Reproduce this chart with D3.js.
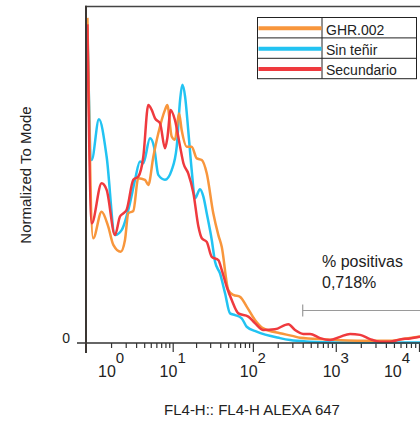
<!DOCTYPE html>
<html>
<head>
<meta charset="utf-8">
<script src="https://cdn.jsdelivr.net/npm/d3@7"></script>
<style>
  body { margin: 0; background: #fff; }
  svg { display: block; }
  text { font-family: "Liberation Sans", Arial, sans-serif; fill: #222; }
</style>
</head>
<body>
<div id="chart"></div>
<script>
// histogram overlay, normalized to mode
// each point is [fluorescence, % of mode]

const seriesNames = ["GHR.002", "Sin teñir", "Secundario"];
const seriesColors = ["#f8963c", "#22c3f2", "#ef3a3e"];

const ghr002 = [[0.04,100],[0.22,32.2],[0.54,40.4],[0.85,35.8],[1.13,30.2],[1.61,28.1],[1.94,31.7],
  [2.22,39.9],[2.7,40.6],[3.25,50.7],[4.11,50.2],[4.6,48.6],[5.44,57.3],[6.39,64.5],[7.89,71.7],
  [8.48,73.2],[9.7,63.5],[10.7,62.5],[12.1,70.7],[13.1,65.5],[15.2,60.4],[17.6,60.4],[20.4,56.8],
  [23.6,56.3],[27.2,52.2],[32.8,39.9],[37.9,33.2],[41.7,29.6],[50.2,16.3],[57.9,14.8],[69.8,14.2],
  [84.2,11.2],[106,7.1],[134,4.5],[213,3.0],[300,2.2],[371,1.6],[780,1.1],[1800,0.7],[4500,0.7],
  [7100,1.4],[10300,2.0]];

const sinTenir = [[0.04,97],[0.17,56.3],[0.43,68.8],[0.77,57.3],[1.23,33.2],[1.69,34.8],[2.38,43.1],
  [2.88,50.2],[3.45,55.8],[3.88,55.3],[4.87,63.0],[5.56,60.4],[6.39,51.7],[7.89,50.2],[9.7,53.2],
  [11.3,60.4],[12.5,74.8],[13.35,79.4],[14.5,75.8],[15.9,65.5],[17.6,53.2],[19.4,44.5],[22.4,47.3],
  [24.7,45.0],[27.2,39.9],[31.4,31.7],[34.5,25.0],[39.7,21.4],[45.8,15.3],[52.7,9.1],[60.7,8.6],
  [73.2,7.6],[84.2,5.0],[111,3.5],[213,1.5],[282,0.9],[490,0.4],[1000,0.15],[10300,0.15]];

const secundario = [[0.04,98],[0.17,36.8],[0.54,49.1],[0.77,47.1],[1.23,33.2],[1.56,38.9],[1.81,39.9],
  [2.08,41.0],[2.7,50.2],[3.25,51.2],[3.88,57.3],[4.6,73.2],[5.16,71.7],[5.75,69.1],[6.75,67.6],
  [7.89,59.9],[8.48,63.0],[9.41,71.7],[10.7,68.6],[12.5,60.4],[13.8,55.3],[15.9,52.2],[18.5,46.1],
  [21.4,35.8],[23.6,32.2],[27.2,31.1],[31.4,26.5],[37.9,25.5],[41.7,22.5],[48,17.3],[55.3,13.2],
  [66.6,9.1],[88.1,8.1],[106,6.1],[134,4.0],[185,4.2],[269,5.8],[323,4.0],[407,2.8],[490,2.8],
  [647,1.5],[853,0.9],[1125,1.9],[1484,2.8],[1957,2.5],[2580,1.2],[3404,0.4],[4491,0.4],[5921,1.1],
  [7803,1.4],[10300,1.9]];

const majorTicks = [10, 100, 1000, 10000];
const decadeTicks = [1, 10, 100, 1000, 10000];
const decadeLabels = ["0", "1", "2", "3", "4"];
const gateRange = [400, 12000];
const gateLevel = 10;
const gateTitle = "% positivas";
const gateValue = "0,718%";

const W = 420, H = 425;
const plotLeft = 86, plotBottom = 343, plotTop = 6.5;

const svg = d3.select("#chart").append("svg")
  .attr("width", W)
  .attr("height", H);

// logicle-like axis, symlog fits it well
const x = d3.scaleSymlog().constant(1)
  .domain([0, 10000])
  .range([plotLeft, 419]);

const y = d3.scaleLinear()
  .domain([0, 103.5])
  .range([plotBottom, plotTop]);

// minor ticks 2..9 in every decade (plus 10^0)
let minorTicks = [1];
for (let d = 0; d < 4; d++) {
  for (let k = 2; k <= 9; k++) minorTicks.push(k * Math.pow(10, d));
}

const minorAxis = svg.append("g")
  .attr("transform", "translate(0," + plotBottom + ")")
  .call(d3.axisBottom(x).tickValues(minorTicks).tickSize(5).tickFormat(""));
const majorAxis = svg.append("g")
  .attr("transform", "translate(0," + plotBottom + ")")
  .call(d3.axisBottom(x).tickValues(majorTicks).tickSize(9).tickFormat(""));
[minorAxis, majorAxis].forEach(a => {
  a.select(".domain").remove();
  a.selectAll(".tick line").attr("stroke", "#333").attr("stroke-width", 1.2);
});

// 10^n labels
const lab = svg.append("g").selectAll("text")
  .data(decadeTicks)
  .enter().append("text")
    .attr("x", d => Math.min(x(d), 397))
    .attr("y", 377)
    .attr("text-anchor", "middle")
    .style("font-size", "16px");
lab.append("tspan").text("10");
lab.append("tspan")
  .attr("dy", -14)
  .style("font-size", "15px")
  .text((d, i) => decadeLabels[i]);

// the lines
const line = d3.line()
  .x(d => x(d[0]))
  .y(d => y(d[1]))
  .curve(d3.curveMonotoneX);

const drawOrder = [1, 0, 2];
const allSeries = [ghr002, sinTenir, secundario];
drawOrder.forEach(i => {
  svg.append("path")
    .datum(allSeries[i])
    .attr("fill", "none")
    .attr("stroke", seriesColors[i])
    .attr("stroke-width", 2.5)
    .attr("stroke-linejoin", "round")
    .attr("d", line);
});

// frame
svg.append("line")
  .attr("x1", plotLeft - 1).attr("x2", W)
  .attr("y1", plotTop).attr("y2", plotTop)
  .attr("stroke", "#444").attr("stroke-width", 1.5);
svg.append("line")
  .attr("x1", 77).attr("x2", W)
  .attr("y1", plotBottom).attr("y2", plotBottom)
  .attr("stroke", "#333").attr("stroke-width", 1.6);
svg.append("line")
  .attr("x1", plotLeft).attr("x2", plotLeft)
  .attr("y1", plotTop - 0.75).attr("y2", 353)
  .attr("stroke", "#3b3633").attr("stroke-width", 2);

svg.append("text")
  .attr("x", 70)
  .attr("y", plotBottom)
  .attr("text-anchor", "end")
  .style("font-size", "14px")
  .text("0");

// axis titles
svg.append("text")
  .attr("transform", "translate(30.5,175) rotate(-90)")
  .attr("text-anchor", "middle")
  .style("font-size", "15px")
  .text("Normalized To Mode");

svg.append("text")
  .attr("x", 252)
  .attr("y", 415)
  .attr("text-anchor", "middle")
  .style("font-size", "15px")
  .text("FL4-H:: FL4-H ALEXA 647");

// gate
svg.append("line")
  .attr("x1", x(gateRange[0])).attr("x2", x(gateRange[1]))
  .attr("y1", y(gateLevel)).attr("y2", y(gateLevel))
  .attr("stroke", "#9a9a9a").attr("stroke-width", 1.2);
svg.append("line")
  .attr("x1", x(gateRange[0])).attr("x2", x(gateRange[0]))
  .attr("y1", y(gateLevel) - 6).attr("y2", y(gateLevel) + 6)
  .attr("stroke", "#9a9a9a").attr("stroke-width", 1.2);
svg.append("text")
  .attr("x", 322).attr("y", 267)
  .style("font-size", "16px")
  .text(gateTitle);
svg.append("text")
  .attr("x", 322).attr("y", 288)
  .style("font-size", "16px")
  .text(gateValue);

// legend
const rowH = 20.4;
const legend = svg.append("g")
  .attr("transform", "translate(257.5,17.5)");
legend.append("rect")
  .attr("width", 159).attr("height", rowH * 3)
  .attr("fill", "#fff").attr("stroke", "#222").attr("stroke-width", 1);
legend.append("line")
  .attr("x1", 64.5).attr("x2", 64.5)
  .attr("y1", 0).attr("y2", rowH * 3)
  .attr("stroke", "#222");
[1, 2].forEach(r => {
  legend.append("line")
    .attr("x1", 0).attr("x2", 159)
    .attr("y1", r * rowH).attr("y2", r * rowH)
    .attr("stroke", "#222");
});
seriesNames.forEach((name, i) => {
  legend.append("line")
    .attr("x1", 1).attr("x2", 64)
    .attr("y1", i * rowH + 10.8).attr("y2", i * rowH + 10.8)
    .attr("stroke", seriesColors[i]).attr("stroke-width", 4);
  legend.append("text")
    .attr("x", 68.5)
    .attr("y", i * rowH + 17)
    .style("font-size", "14px")
    .text(name);
});
</script>
</body>
</html>
